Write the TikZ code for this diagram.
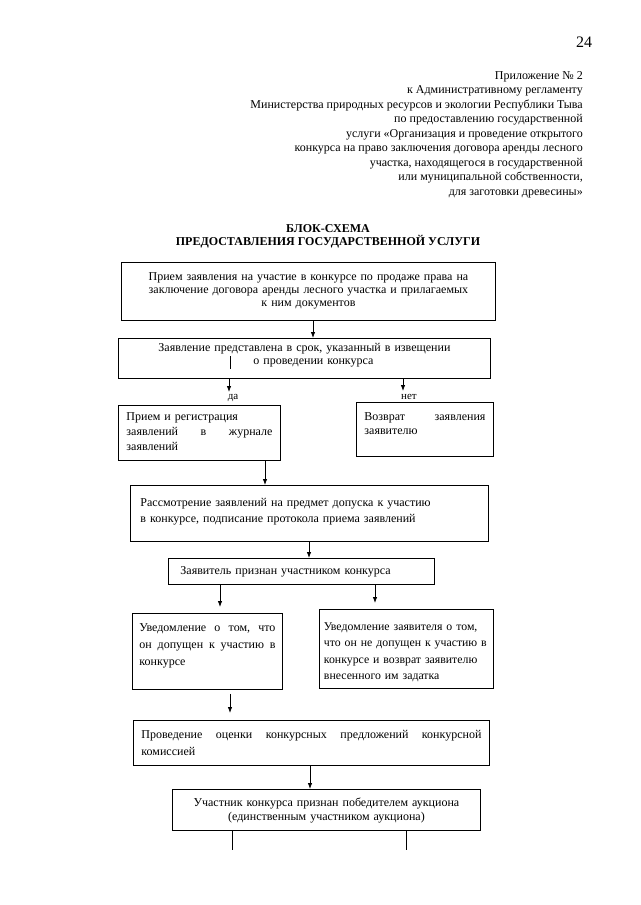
\documentclass[tikz,border=0pt]{standalone}
\usepackage{fontspec}
\setmainfont{Liberation Serif}
\usetikzlibrary{arrows.meta,positioning,calc}

\begin{document}
\begin{tikzpicture}[x=1pt,y=-1pt,
	  every node/.style={inner sep=0pt,font=\fontsize{12}{14}\selectfont},
	  stepbox/.style={draw,line width=0.9pt,anchor=north west,inner xsep=8pt,inner ysep=0pt},
	  head/.style={anchor=north east,align=right,font=\fontsize{12}{14.5}\selectfont},
	  heading/.style={align=center,font=\bfseries\fontsize{12}{13}\selectfont},
	  answer/.style={font=\fontsize{11}{12}\selectfont},
	  flow/.style={-{Latex[length=6pt,width=4.5pt]},line width=0.8pt},
	  plain/.style={line width=0.8pt}]

	  \useasboundingbox (0,0) rectangle (640,905);

	  % page header
	  \node[font=\fontsize{16}{18}\selectfont] (pagenum) at (584,42) {24};
	  \node[head] (appendix) at (583,71) {Приложение № 2\\
	    к Административному регламенту\\
	    Министерства природных ресурсов и экологии Республики Тыва\\
	    по предоставлению государственной\\
	    услуги «Организация и проведение открытого\\
	    конкурса на право заключения договора аренды лесного\\
	    участка, находящегося в государственной\\
	    или муниципальной собственности,\\
	    для заготовки древесины»};
	  \node[heading] (title) at (328,236) {БЛОК-СХЕМА\\ПРЕДОСТАВЛЕНИЯ ГОСУДАРСТВЕННОЙ УСЛУГИ};

	  % boxes (top left corner, height above / depth below the first baseline)
	  \node[stepbox,align=center,text width=358pt,text height=18pt,text depth=40pt,
	    font=\fontsize{12}{13}\selectfont] (intake) at (121,262)
	    {Прием заявления на участие в конкурсе по продаже права на\\
	     заключение договора аренды лесного участка и прилагаемых\\
	     к ним документов};
	  \node[stepbox,align=center,text width=356pt,text height=13pt,text depth=27pt,
	    font=\fontsize{12}{13}\selectfont] (deadline) at (118,338)
	    {Заявление представлена в срок, указанный в извещении\\
	     \hspace*{18pt}о проведении конкурса};
	  \node[stepbox,align=left,text width=146pt,text height=15pt,text depth=40pt,
	    font=\fontsize{12}{15}\selectfont] (register) at (118,405)
	    {Прием и регистрация\\
	     заявлений\hfill в\hfill журнале\\
	     заявлений};
	  \node[stepbox,align=left,text width=121pt,text height=18pt,text depth=36pt,
	    font=\fontsize{12}{14}\selectfont] (reject) at (356,402)
	    {Возврат\hfill заявления\\заявителю};
	  \node[stepbox,align=left,inner xsep=10pt,text width=338pt,text height=21pt,text depth=35pt,
	    font=\fontsize{12}{16}\selectfont] (review) at (130,485)
	    {Рассмотрение заявлений на предмет допуска к участию\\
	     в конкурсе, подписание протокола приема заявлений};
	  \node[stepbox,align=left,inner xsep=12pt,text width=242pt,text height=16.5pt,text depth=9.5pt] (admit) at (168,558)
	    {Заявитель признан участником конкурса};
	  \node[stepbox,align=left,inner xsep=7pt,text width=136pt,text height=18pt,text depth=58pt,
	    font=\fontsize{12}{17}\selectfont] (okay) at (132,613)
	    {Уведомление\hfill о\hfill том,\hfill что\\
	     он\hfill допущен\hfill к\hfill участию\hfill в\\
	     конкурсе};
	  \node[stepbox,align=left,inner xsep=4.5pt,text width=165pt,text height=21pt,text depth=58pt,
	    font=\fontsize{11.8}{16.5}\selectfont] (refuse) at (319,609)
	    {Уведомление заявителя о том,\\
	     что он не допущен к участию в\\
	     конкурсе и возврат заявителю\\
	     внесенного им задатка};
	  \node[stepbox,align=left,inner xsep=8pt,text width=340pt,text height=18.5pt,text depth=26.5pt,
	    font=\fontsize{12}{17}\selectfont] (rating) at (133,720)
	    {Проведение\hfill оценки\hfill конкурсных\hfill предложений\hfill конкурсной\\
	     комиссией};
	  \node[stepbox,align=center,text width=292pt,text height=17.5pt,text depth=23.5pt,
	    font=\fontsize{12}{14}\selectfont] (winner) at (172,789)
	    {Участник конкурса признан победителем аукциона\\
	     (единственным участником аукциона)};

	  % answers
	  \node[answer] (yes) at (233,398) {да};
	  \node[answer] (no) at (409,397) {нет};

	  % x positions of the connectors
	  \coordinate (x1) at (313,0);
	  \coordinate (x2) at (229,392);
	  \coordinate (x3) at (403,391);
	  \coordinate (x4) at (265,0);
	  \coordinate (x5) at (309,0);
	  \coordinate (x6) at (220,0);
	  \coordinate (x7) at (375,0);
	  \coordinate (x8) at (230,0);
	  \coordinate (x9) at (310,0);
	  \coordinate (end1) at (232,850);
	  \coordinate (end2) at (406,850);
	  \coordinate (bar1) at (230,356);
	  \coordinate (bar2) at (230,369);

	  % connectors
	  \draw[flow] (intake.south -| x1) -- (deadline.north -| x1);
	  \draw[plain] (bar1) -- (bar2);
	  \draw[flow] (deadline.south -| x2) -- (x2);
	  \draw[flow] (deadline.south -| x3) -- (x3);
	  \draw[flow] (register.south -| x4) -- (review.north -| x4);
	  \draw[flow] (review.south -| x5) -- (admit.north -| x5);
	  \draw[flow,shorten >=6pt] (admit.south -| x6) -- (okay.north -| x6);
	  \draw[flow,shorten >=6pt] (admit.south -| x7) -- (refuse.north -| x7);
	  \draw[flow,shorten <=4pt,shorten >=7pt] (okay.south -| x8) -- (rating.north -| x8);
	  \draw[flow] (rating.south -| x9) -- (winner.north -| x9);
	  \draw[plain] (winner.south -| end1) -- (end1);
	  \draw[plain] (winner.south -| end2) -- (end2);

\end{tikzpicture}
\end{document}
